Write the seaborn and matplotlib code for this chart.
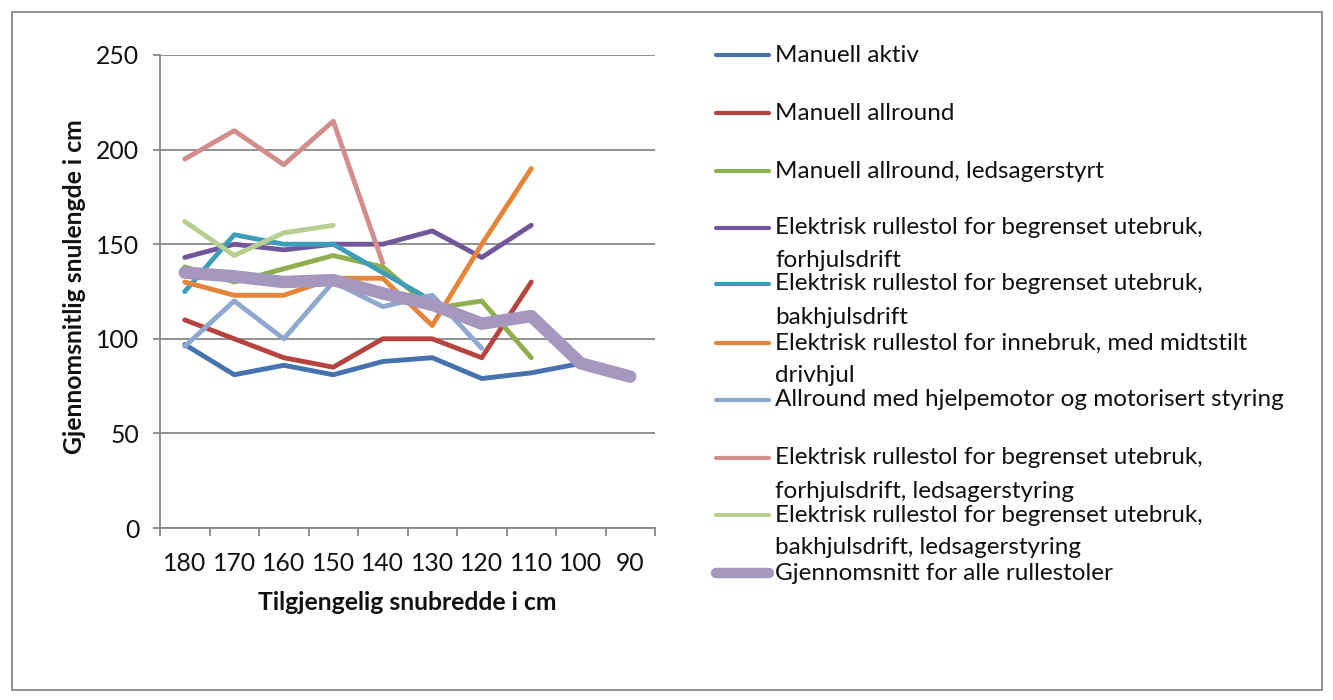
import numpy as np
import pandas as pd
import matplotlib
matplotlib.use("Agg")
import matplotlib.pyplot as plt
import seaborn as sns
from matplotlib.lines import Line2D
from matplotlib.patches import Rectangle

nan = np.nan
categories = ["180", "170", "160", "150", "140", "130", "120", "110", "100", "90"]

manuell_aktiv = [97, 81, 86, 81, 88, 90, 79, 82, 87, nan]
manuell_allround = [110, 100, 90, 85, 100, 100, 90, 130, nan, nan]
manuell_ledsager = [138, 130, 137, 144, 138, 116, 120, 90, nan, nan]
el_forhjul = [143, 150, 147, 150, 150, 157, 143, 160, nan, nan]
el_bakhjul = [125, 155, 150, 150, 135, 120, nan, nan, nan, nan]
el_innebruk = [130, 123, 123, 132, 132, 107, 150, 190, nan, nan]
allround_motor = [96, 120, 100, 130, 117, 123, 95, nan, nan, nan]
el_forhjul_ledsager = [195, 210, 192, 215, 140, nan, nan, nan, nan, nan]
el_bakhjul_ledsager = [162, 144, 156, 160, nan, nan, nan, nan, nan, nan]
gjennomsnitt = [135, 133, 130, 131, 124, 118, 108, 112, 87, 80]

series_names = [
    "Manuell aktiv",
    "Manuell allround",
    "Manuell allround, ledsagerstyrt",
    "Elektrisk rullestol for begrenset utebruk,\nforhjulsdrift",
    "Elektrisk rullestol for begrenset utebruk,\nbakhjulsdrift",
    "Elektrisk rullestol for innebruk, med midtstilt\ndrivhjul",
    "Allround med hjelpemotor og motorisert styring",
    "Elektrisk rullestol for begrenset utebruk,\nforhjulsdrift, ledsagerstyring",
    "Elektrisk rullestol for begrenset utebruk,\nbakhjulsdrift, ledsagerstyring",
    "Gjennomsnitt for alle rullestoler",
]
series_values = [manuell_aktiv, manuell_allround, manuell_ledsager, el_forhjul,
                 el_bakhjul, el_innebruk, allround_motor, el_forhjul_ledsager,
                 el_bakhjul_ledsager, gjennomsnitt]
colors = ["#4673AE", "#B5443F", "#8EAF4E", "#72569A", "#3E9EBA", "#E6853A",
          "#8FA8D0", "#D38E8C", "#B8CF92", "#A597BD"]
widths = [3.5] * 9 + [9.0]

sns.set_theme(style="white")
plt.rcParams["font.family"] = ["Lato", "DejaVu Sans"]

W, H = 1333, 700
fig = plt.figure(figsize=(W / 100, H / 100), dpi=100)
ax = fig.add_axes([160 / W, 1 - 528 / H, (655 - 160) / W, (528 - 55) / H])

x_pos = np.arange(len(categories))
for name, vals, col, lw in zip(series_names, series_values, colors, widths):
    df = pd.DataFrame({"x": x_pos, "y": vals}).dropna()
    sns.lineplot(data=df, x="x", y="y", ax=ax, color=col, linewidth=lw,
                 sort=False, legend=False, solid_capstyle="round",
                 solid_joinstyle="round")

grid_col = "#888888"
ax.set_xlim(-0.5, len(categories) - 0.5)
ax.set_ylim(0, 250)
ax.set_yticks([0, 50, 100, 150, 200, 250])
ax.set_xticks(x_pos)
ax.set_xticklabels(categories)
ax.set_xticks(np.arange(-0.5, len(categories), 1.0), minor=True)
ax.yaxis.grid(True, color=grid_col, linewidth=1.3)
ax.set_axisbelow(True)
for s in ["top", "right"]:
    ax.spines[s].set_visible(False)
for s in ["left", "bottom"]:
    ax.spines[s].set_color(grid_col)
    ax.spines[s].set_linewidth(1.3)
ax.tick_params(axis="y", which="major", length=5, width=1.3, color=grid_col,
               pad=10, labelsize=17.8, left=True, labelcolor="#111111")
ax.tick_params(axis="x", which="major", length=0, pad=17, labelsize=17.8,
               labelcolor="#111111")
ax.tick_params(axis="x", which="minor", length=6, width=1.3, color=grid_col,
               bottom=True)
ax.set_xlabel("Tilgjengelig snubredde i cm", fontsize=17.8, fontweight="bold",
              color="#111111")
ax.set_ylabel("Gjennomsnitlig snulengde i cm", fontsize=17.8, fontweight="bold",
              color="#111111")
ax.xaxis.set_label_coords(0.5, (528 - 602) / 473)
ax.xaxis.label.set_va("center")
ax.yaxis.set_label_coords((75 - 160) / 495, (528 - 287) / 473)
ax.yaxis.label.set_va("center")

# legend (manual, first line aligned with handle)
leg_y = [55, 113, 171, 228, 284, 343, 400, 458, 515, 573]
for name, col, lw, yy in zip(series_names, colors, widths, leg_y):
    yf = 1 - yy / H
    fig.add_artist(Line2D([716 / W, 769 / W], [yf, yf], color=col,
                          linewidth=3.0 if lw < 5 else 7.5,
                          solid_capstyle="round"))
    lines = name.split("\n")
    for i, ln in enumerate(lines):
        fig.text(775 / W, 1 - (yy + 33 * i) / H, ln, fontsize=17.5,
                 va="center", ha="left", color="#111111")

fig.add_artist(Rectangle((12 / W, 1 - 690 / H), (1322 - 12) / W, (690 - 12) / H,
                         fill=False, edgecolor=grid_col, linewidth=1.3))

fig.savefig("out.png", dpi=100)
